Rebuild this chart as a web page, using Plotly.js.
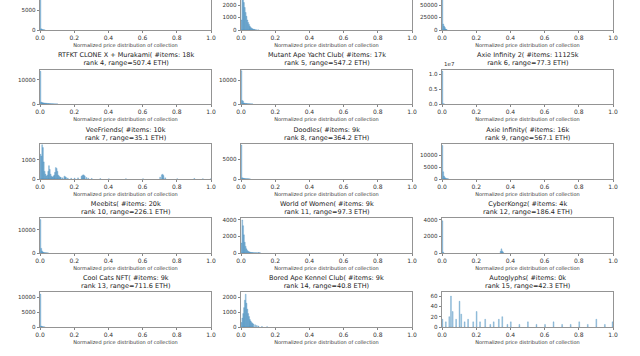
<!DOCTYPE html>
<html><head><meta charset="utf-8">
<script src="https://cdn.plot.ly/plotly-3.0.1.min.js"></script>
<style>html,body{margin:0;padding:0;overflow:hidden;background:#fff;width:640px;height:356px}
#chart{position:absolute;left:0;top:-10px;width:640px;height:366px}</style>
</head><body><div id="chart"></div>
<script>
// ---- data (bin left edges, bin width 0.005) ----
const titles = [
  "", "", "",
  "RTFKT CLONE X + Murakami( #items: 18k<br>rank 4, range=507.4 ETH)",
  "Mutant Ape Yacht Club( #items: 17k<br>rank 5, range=547.2 ETH)",
  "Axie Infinity 2( #items: 11125k<br>rank 6, range=77.3 ETH)",
  "VeeFriends( #items: 10k<br>rank 7, range=35.1 ETH)",
  "Doodles( #items: 9k<br>rank 8, range=364.2 ETH)",
  "Axie Infinity( #items: 16k<br>rank 9, range=567.1 ETH)",
  "Meebits( #items: 20k<br>rank 10, range=226.1 ETH)",
  "World of Women( #items: 9k<br>rank 11, range=97.3 ETH)",
  "CyberKongz( #items: 4k<br>rank 12, range=186.4 ETH)",
  "Cool Cats NFT( #items: 9k<br>rank 13, range=711.6 ETH)",
  "Bored Ape Kennel Club( #items: 9k<br>rank 14, range=40.8 ETH)",
  "Autoglyphs( #items: 0k<br>rank 15, range=42.3 ETH)"
];

const rank1X = [0, 0.005, 0.01, 0.015, 0.02, 0.025];
const rank1Y = [8500, 300, 150, 80, 40, 20];
const rank2X = [0, 0.005, 0.01, 0.015, 0.02, 0.025, 0.03, 0.035, 0.04, 0.045, 0.05, 0.055, 0.06, 0.065, 0.07, 0.075, 0.08, 0.09, 0.1];
const rank2Y = [800, 2750, 2600, 2200, 1800, 1400, 1100, 800, 600, 450, 300, 200, 150, 100, 60, 50, 40, 20, 10];
const rank3X = [0, 0.005, 0.01, 0.015, 0.02, 0.025];
const rank3Y = [70000, 12000, 8000, 5000, 2000, 800];

const rtfktX = [0, 0.005, 0.01, 0.015, 0.02, 0.025, 0.03, 0.035, 0.04, 0.045, 0.05, 0.055, 0.06, 0.065, 0.07, 0.075, 0.08, 0.085, 0.09, 0.095, 0.1];
const rtfktY = [13500, 800, 600, 500, 450, 400, 350, 300, 250, 200, 180, 150, 120, 100, 80, 60, 50, 40, 30, 20, 15];
const maycX = [0, 0.005, 0.01, 0.015, 0.02, 0.025, 0.03, 0.035, 0.04, 0.045, 0.05, 0.055, 0.06, 0.065];
const maycY = [14000, 1500, 1200, 400, 300, 250, 200, 150, 100, 80, 60, 50, 40, 30];
const axie2X = [0, 0.005, 0.01];
const axie2Y = [11200000, 50000, 20000];

const veeX = [0, 0.005, 0.01, 0.015, 0.02, 0.025, 0.03, 0.035, 0.04, 0.045, 0.05, 0.055, 0.06, 0.065, 0.07, 0.075, 0.08, 0.085, 0.09, 0.095, 0.1, 0.105, 0.11, 0.115, 0.12, 0.13, 0.14, 0.145, 0.15, 0.16, 0.18, 0.2, 0.22, 0.24, 0.245, 0.25, 0.255, 0.26, 0.27, 0.28, 0.3, 0.35, 0.4, 0.5, 0.6, 0.7, 0.71, 0.715, 0.72, 0.73, 0.8, 0.9, 0.95, 0.995];
const veeY = [1300, 1200, 1800, 1650, 900, 400, 250, 150, 200, 400, 700, 500, 250, 150, 100, 150, 200, 350, 600, 550, 400, 200, 150, 100, 80, 60, 150, 120, 80, 50, 40, 50, 60, 150, 180, 220, 200, 150, 80, 40, 30, 20, 10, 10, 10, 100, 220, 250, 180, 60, 10, 30, 10, 5];
const doodlesX = [0, 0.005, 0.01, 0.015, 0.02, 0.025, 0.03, 0.035, 0.04, 0.045, 0.05];
const doodlesY = [8500, 300, 200, 150, 100, 80, 60, 50, 40, 30, 20];
const axieX = [0, 0.005, 0.01, 0.015, 0.02, 0.025, 0.03, 0.035];
const axieY = [14000, 3000, 1200, 600, 300, 150, 80, 40];

const meebitsX = [0, 0.005, 0.01, 0.015, 0.02, 0.025, 0.03, 0.035, 0.04, 0.045];
const meebitsY = [14500, 2000, 900, 400, 250, 150, 100, 60, 40, 20];
const wowX = [0, 0.005, 0.01, 0.015, 0.02, 0.025, 0.03, 0.035, 0.04, 0.045, 0.05, 0.055, 0.06, 0.065, 0.07, 0.075, 0.08, 0.085, 0.09, 0.095, 0.1, 0.105, 0.11];
const wowY = [1200, 4000, 3300, 2200, 1300, 800, 500, 300, 200, 150, 100, 80, 60, 50, 40, 30, 25, 20, 20, 15, 50, 30, 10];
const kongzX = [0, 0.005, 0.34, 0.345, 0.35, 0.355];
const kongzY = [3900, 100, 200, 500, 250, 100];

const coolX = [0, 0.005, 0.01, 0.015, 0.02, 0.025];
const coolY = [11000, 300, 150, 80, 40, 20];
const bakcX = [0, 0.005, 0.01, 0.015, 0.02, 0.025, 0.03, 0.035, 0.04, 0.045, 0.05, 0.055, 0.06, 0.065, 0.07, 0.08, 0.09, 0.1, 0.12, 0.15];
const bakcY = [300, 600, 900, 1300, 1800, 2200, 1600, 1200, 900, 700, 500, 400, 300, 250, 200, 150, 100, 60, 30, 20];
const glyphX = [0.0, 0.02, 0.04, 0.05, 0.06, 0.08, 0.1, 0.11, 0.13, 0.15, 0.18, 0.2, 0.22, 0.25, 0.28, 0.3, 0.33, 0.35, 0.38, 0.4, 0.45, 0.5, 0.55, 0.6, 0.65, 0.7, 0.75, 0.8, 0.85, 0.9, 0.95, 0.995];
const glyphY = [15, 10, 20, 60, 30, 15, 50, 25, 10, 15, 10, 30, 10, 15, 5, 10, 15, 20, 5, 10, 5, 10, 5, 5, 10, 5, 5, 10, 5, 15, 5, 10];

// y-axis tick labels and ranges
const yRanges = [8750, 2800, 70000, 14200, 14500, 11700000, 1840, 8750, 14600, 15200, 4240, 4240, 11700, 2350, 68];
const yTickVals = [
  [0, 5000], [0, 1000, 2000], [0, 25000, 50000],
  [0, 10000], [0, 10000], [0, 5000000, 10000000],
  [0, 1000], [0, 5000], [0, 5000, 10000],
  [0, 10000], [0, 2000, 4000], [0, 2000, 4000],
  [0, 5000, 10000], [0, 1000, 2000], [0, 20, 40, 60]
];
const yTickText = [
  ["0", "5000"], ["0", "1000", "2000"], ["0", "25000", "50000"],
  ["0", "10000"], ["0", "10000"], ["0.0", "0.5", "1.0"],
  ["0", "1000"], ["0", "5000"], ["0", "5000", "10000"],
  ["0", "10000"], ["0", "2000", "4000"], ["0", "2000", "4000"],
  ["0", "5000", "10000"], ["0", "1000", "2000"], ["0", "20", "40", "60"]
];
const xTickVals = [0, 0.2, 0.4, 0.6, 0.8, 1.0];
const xTickText = ["0.0", "0.2", "0.4", "0.6", "0.8", "1.0"];
const xLabel = "Normalized price distribution of collection";

const seriesX = [rank1X, rank2X, rank3X, rtfktX, maycX, axie2X, veeX, doodlesX, axieX, meebitsX, wowX, kongzX, coolX, bakcX, glyphX];
const seriesY = [rank1Y, rank2Y, rank3Y, rtfktY, maycY, axie2Y, veeY, doodlesY, axieY, meebitsY, wowY, kongzY, coolY, bakcY, glyphY];

// ---- layout (pixel geometry) ----
const W = 640, H = 366;
const colPx = [[40, 211], [241, 412], [442, 613]];
const rowPx = [[5, 40], [79.5, 114], [154, 189], [228, 263], [302, 337]]; // top,bottom in paper px
const FONT = "DejaVu Sans, sans-serif";

const data = [];
const layout = {
  width: W, height: H, margin: {l: 0, r: 0, t: 0, b: 0},
  paper_bgcolor: "#fff", plot_bgcolor: "#fff", showlegend: false,
  bargap: 0, annotations: [], font: {family: FONT, color: "#222"}
};

for (let i = 0; i < 15; i++) {
  const r = Math.floor(i / 3), c = i % 3;
  const n = i + 1;
  const xa = "xaxis" + (n === 1 ? "" : n), ya = "yaxis" + (n === 1 ? "" : n);
  const xr = "x" + (n === 1 ? "" : n), yr = "y" + (n === 1 ? "" : n);
  data.push({
    type: "bar", x: seriesX[i], y: seriesY[i], xaxis: xr, yaxis: yr,
    width: 0.005, offset: 0,
    marker: {color: "rgba(31,119,180,0.38)", line: {color: "rgba(31,119,180,0.5)", width: 0.5}},
    hoverinfo: "x+y"
  });
  const [top, bot] = rowPx[r];
  layout[xa] = {
    domain: [colPx[c][0] / W, colPx[c][1] / W], anchor: yr, range: [0, 1],
    tickvals: xTickVals, ticktext: xTickText, ticks: "outside", ticklen: 2.5, tickwidth: 0.6, tickcolor: "#333",
    tickfont: {size: 6, color: "#333", family: FONT},
    showgrid: false, zeroline: false, showline: true, mirror: true, linecolor: "#666", linewidth: 0.7,
    title: {text: xLabel, font: {size: 5, color: "#333", family: FONT}, standoff: 2},
    fixedrange: true
  };
  layout[ya] = {
    domain: [(H - bot) / H, (H - top) / H], anchor: xr, range: [0, yRanges[i]],
    tickvals: yTickVals[i], ticktext: yTickText[i], ticks: "outside", ticklen: 2.5, tickwidth: 0.6, tickcolor: "#333",
    tickfont: {size: 5.6, color: "#333", family: FONT},
    showgrid: false, zeroline: false, showline: true, mirror: true, linecolor: "#666", linewidth: 0.7,
    fixedrange: true
  };
  if (titles[i]) {
    layout.annotations.push({
      text: titles[i], xref: "paper", yref: "paper",
      x: (colPx[c][0] + colPx[c][1]) / 2 / W, y: (H - top + 0.5) / H,
      xanchor: "center", yanchor: "bottom", showarrow: false,
      font: {size: 6.5, color: "#222", family: FONT}
    });
  }
}
// matplotlib offset text for the 1e7 axis
layout.annotations.push({
  text: "1e7", xref: "paper", yref: "paper",
  x: colPx[2][0] / W, y: (H - rowPx[1][0] + 0.5) / H,
  xanchor: "left", yanchor: "bottom", showarrow: false,
  font: {size: 5.5, color: "#333", family: FONT}
});

Plotly.newPlot("chart", data, layout, {staticPlot: true, displayModeBar: false});
</script></body></html>
